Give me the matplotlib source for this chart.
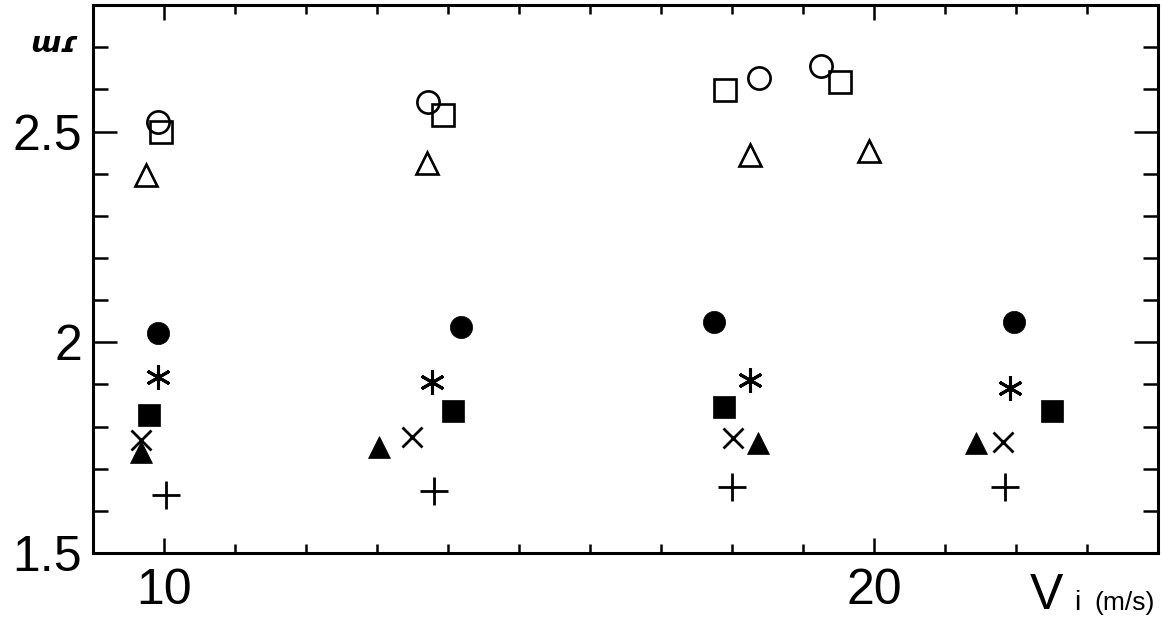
import matplotlib
matplotlib.use("Agg")
import matplotlib.pyplot as plt
from matplotlib.ticker import MultipleLocator, FixedLocator

plt.rcParams['font.family'] = ['Liberation Sans', 'DejaVu Sans']

# Data (impact velocity Vi in m/s, value)
open_circle_x = [9.91, 13.72, 18.38, 19.26]
open_circle_y = [2.523, 2.569, 2.628, 2.655]
open_square_x = [9.96, 13.93, 17.90, 19.52]
open_square_y = [2.500, 2.539, 2.598, 2.617]
open_tri_x = [9.74, 13.71, 18.26, 19.93]
open_tri_y = [2.397, 2.425, 2.444, 2.454]
fill_circle_x = [9.92, 14.19, 17.74, 21.97]
fill_circle_y = [2.021, 2.037, 2.047, 2.049]
aster_x = [9.92, 13.78, 18.25, 21.91]
aster_y = [1.917, 1.906, 1.910, 1.891]
fill_square_x = [9.79, 14.07, 17.89, 22.51]
fill_square_y = [1.827, 1.837, 1.846, 1.838]
cross_x = [9.67, 13.49, 18.01, 21.82]
cross_y = [1.768, 1.776, 1.774, 1.764]
fill_tri_x = [9.67, 13.03, 18.36, 21.44]
fill_tri_y = [1.740, 1.752, 1.760, 1.762]
plus_x = [10.03, 13.80, 18.00, 21.85]
plus_y = [1.638, 1.648, 1.657, 1.657]

x_major = [10, 20]
x_labels = ['10', '20']
y_major = [1.5, 2.0, 2.5]
y_labels = ['1.5', '2', '2.5']

fig = plt.figure(figsize=(11.73, 6.24), dpi=100)
ax = fig.add_axes([0.0793, 0.1138, 0.9079, 0.878])

lw = 1.9
ax.plot(open_circle_x, open_circle_y, 'o', ms=16, mfc='white', mec='black', mew=lw, ls='none')
ax.plot(open_square_x, open_square_y, 's', ms=16, mfc='none', mec='black', mew=lw, ls='none')
ax.plot(open_tri_x, open_tri_y, '^', ms=16.5, mfc='none', mec='black', mew=lw, ls='none')
ax.plot(fill_circle_x, fill_circle_y, 'o', ms=16, mfc='black', mec='black', mew=0.5, ls='none')
ax.plot(aster_x, aster_y, marker=(6, 2, 0), ms=18, mec='black', mew=2.2, ls='none')
ax.plot(fill_square_x, fill_square_y, 's', ms=16, mfc='black', mec='black', mew=0.5, ls='none')
ax.plot(cross_x, cross_y, 'x', ms=14, mec='black', mew=2.0, ls='none')
ax.plot(fill_tri_x, fill_tri_y, '^', ms=16, mfc='black', mec='black', mew=0.5, ls='none')
ax.plot(plus_x, plus_y, '+', ms=19.5, mec='black', mew=2.0, ls='none')

ax.set_xlim(9, 24)
ax.set_ylim(1.5, 2.8)

ax.xaxis.set_major_locator(FixedLocator(x_major))
ax.set_xticklabels(x_labels)
ax.xaxis.set_minor_locator(MultipleLocator(1))
ax.yaxis.set_major_locator(FixedLocator(y_major))
ax.set_yticklabels(y_labels)
ax.yaxis.set_minor_locator(MultipleLocator(0.1))

for s in ax.spines.values():
    s.set_linewidth(2.2)

ax.tick_params(axis='both', which='both', direction='in', top=True, right=True, width=1.8)
ax.tick_params(axis='x', which='major', length=11, labelsize=36, pad=11)
ax.tick_params(axis='x', which='minor', length=6.5)
ax.tick_params(axis='y', which='major', length=17, labelsize=36, pad=8)
ax.tick_params(axis='y', which='minor', length=11)

# Axis labels
fig.text(0.026, 0.93, 'ɯɾ', fontsize=21, fontstyle='italic', fontweight='bold',
         ha='left', va='center', family=['DejaVu Sans'])
fig.text(0.878, 0.045, 'V', fontsize=36, ha='left', va='center')
fig.text(0.916, 0.033, 'i', fontsize=20, ha='left', va='center')
fig.text(0.933, 0.033, '(m/s)', fontsize=19, ha='left', va='center')

fig.savefig('out.png', dpi=100)
